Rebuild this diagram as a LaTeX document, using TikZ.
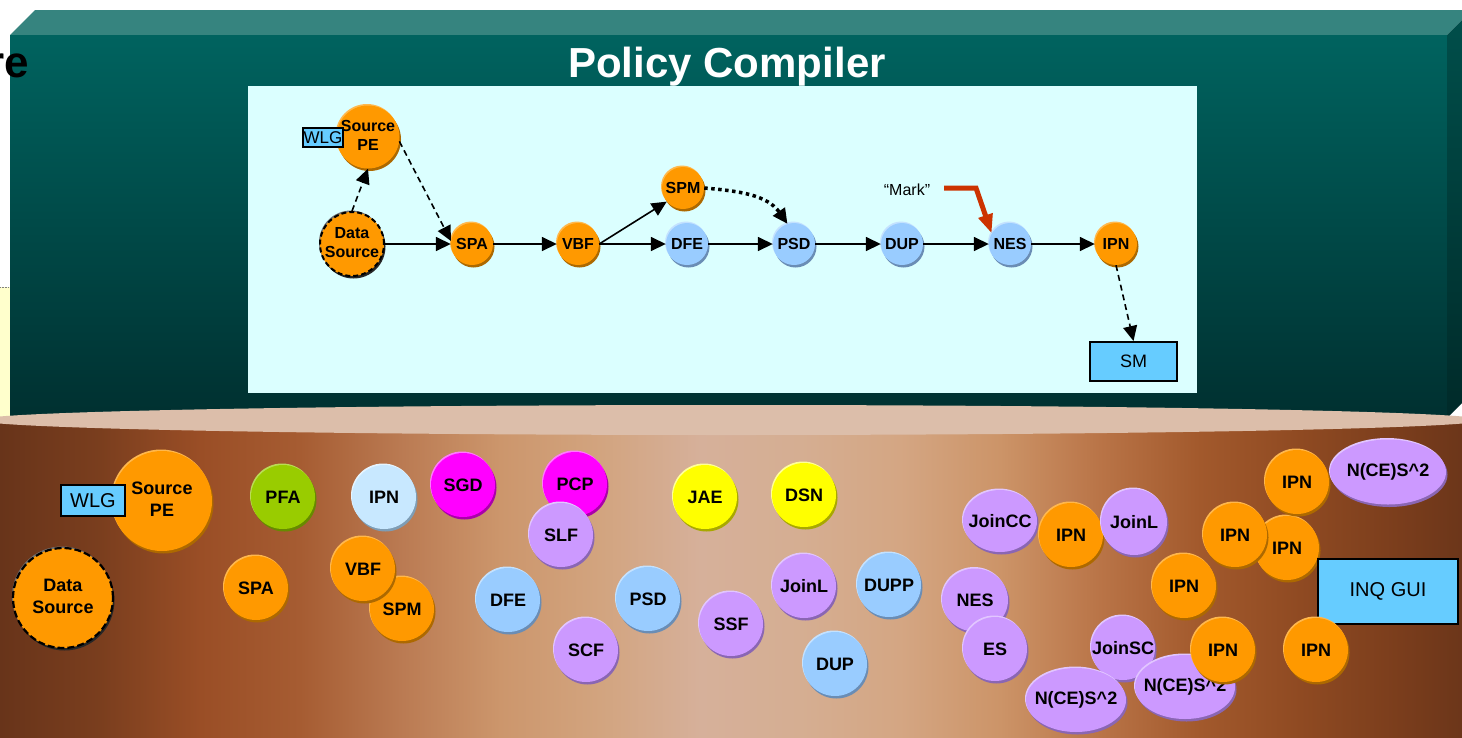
\documentclass[tikz,border=0pt]{standalone}
\usepackage{fontspec}
\setmainfont{Liberation Sans}
\usetikzlibrary{arrows.meta,shapes.geometric,shadows}

% palette
\definecolor{cOr}{HTML}{FF9900}\definecolor{cOrL}{HTML}{FFB84D}\definecolor{cOrD}{HTML}{AD6900}
\definecolor{cBl}{HTML}{99CCFF}\definecolor{cBlL}{HTML}{C4E2FF}\definecolor{cBlD}{HTML}{6A8DB5}
\definecolor{cPb}{HTML}{C8E8FF}\definecolor{cPbL}{HTML}{E6F5FF}\definecolor{cPbD}{HTML}{7E9DB5}
\definecolor{cLv}{HTML}{CC99FF}\definecolor{cLvL}{HTML}{E2C6FF}\definecolor{cLvD}{HTML}{8A66B3}
\definecolor{cMg}{HTML}{FF00FF}\definecolor{cMgL}{HTML}{FF7AFF}\definecolor{cMgD}{HTML}{AA00AA}
\definecolor{cYe}{HTML}{FFFF00}\definecolor{cYeL}{HTML}{FFFF99}\definecolor{cYeD}{HTML}{A8A800}
\definecolor{cGr}{HTML}{99CC00}\definecolor{cGrL}{HTML}{BADD55}\definecolor{cGrD}{HTML}{678A00}
\definecolor{cBox}{HTML}{66CCFF}
\definecolor{cPanel}{HTML}{DBFFFF}
\definecolor{cCap}{HTML}{DCBEAA}
\definecolor{cTop}{HTML}{36847F}
\definecolor{cFrT}{HTML}{00635F}\definecolor{cFrB}{HTML}{003030}
\definecolor{cSdT}{HTML}{004F4B}\definecolor{cSdB}{HTML}{002A29}
\definecolor{cStrip}{HTML}{FFFFCC}
\definecolor{cMark}{HTML}{CC3300}
% cylinder body tones, left to right
\definecolor{bd0}{HTML}{68341A}\definecolor{bd1}{HTML}{7A3E1E}\definecolor{bd2}{HTML}{9A4E26}
\definecolor{bd3}{HTML}{A65C32}\definecolor{bd4}{HTML}{BA7A52}\definecolor{bd5}{HTML}{CC966C}
\definecolor{bd6}{HTML}{D2A47F}\definecolor{bd7}{HTML}{D6B09A}\definecolor{bd8}{HTML}{D5AE92}
\definecolor{bd9}{HTML}{D4A683}\definecolor{bd10}{HTML}{CC9468}\definecolor{bd11}{HTML}{B97447}
\definecolor{bd12}{HTML}{A2592C}\definecolor{bd13}{HTML}{8F4A22}\definecolor{bd14}{HTML}{7A3D1C}
\definecolor{bd15}{HTML}{6C361A}

\pgfdeclarehorizontalshading{cylbody}{100bp}{%
  color(0bp)=(bd0); color(25bp)=(bd0); color(28.42bp)=(bd1); color(31.84bp)=(bd2);
  color(35.26bp)=(bd3); color(38.68bp)=(bd4); color(42.10bp)=(bd5); color(45.52bp)=(bd6);
  color(48.94bp)=(bd7); color(52.36bp)=(bd8); color(55.78bp)=(bd9); color(59.20bp)=(bd10);
  color(62.62bp)=(bd11); color(66.04bp)=(bd12); color(69.46bp)=(bd13); color(72.88bp)=(bd14);
  color(75bp)=(bd15); color(100bp)=(bd15)}

\newcommand{\lblbox}[1]{\makebox[0pt]{#1}}
\newcommand{\twoline}[2]{\makebox[0pt]{\begin{tabular}{@{}c@{}}#1\\#2\end{tabular}}}

\tikzset{
  orb/.style={ellipse, inner sep=0pt, minimum width=64pt, minimum height=64pt,
    font=\bfseries\fontsize{18}{22}\selectfont},
  smallorb/.style={orb, minimum width=42pt, minimum height=42pt,
    font=\bfseries\fontsize{16}{19}\selectfont},
  orbfill/.style n args={3}{fill=#1,
    drop shadow={shadow xshift=1.5pt, shadow yshift=-2.5pt, fill=#3, opacity=1},
    general shadow={shadow xshift=-1pt, shadow yshift=1.5pt, fill=#2}},
  tOr/.style={orbfill={cOr}{cOrL}{cOrD}},
  tBl/.style={orbfill={cBl}{cBlL}{cBlD}},
  tPb/.style={orbfill={cPb}{cPbL}{cPbD}},
  tLv/.style={orbfill={cLv}{cLvL}{cLvD}},
  tMg/.style={orbfill={cMg}{cMgL}{cMgD}},
  tYe/.style={orbfill={cYe}{cYeL}{cYeD}},
  tGr/.style={orbfill={cGr}{cGrL}{cGrD}},
  srcorb/.style={orbfill={cOr}{black!55}{black!85}, draw=black},
  wbox/.style={rectangle, draw=black, fill=cBox, inner sep=0pt},
  arr/.style={line width=1.6pt, -{Triangle[length=15pt,width=14pt]}},
  dsh/.style={arr, dash pattern=on 6pt off 4pt},
  dtt/.style={line width=3.5pt, dash pattern=on 3.5pt off 3.5pt,
    -{Triangle[length=15pt,width=14pt]}},
  markarrow/.style={draw=cMark, line width=5pt, line join=miter,
    -{Triangle[length=19pt,width=14pt]}}
}

\begin{document}
\begin{tikzpicture}[x=1pt,y=-1pt]
\useasboundingbox (0,0) rectangle (1462,737);
\fill[white] (0,0) rectangle (1462,737);

% pale strip at the left edge
\fill[cStrip] (0,287) rectangle (10,418);
\draw[gray, densely dotted, line width=0.6pt] (0,287) -- (10,287);

% compiler block: top face, front face, side face
\fill[cTop] (10,35) -- (35,10) -- (1472,10) -- (1447,35) -- cycle;
\shade[top color=cFrT, bottom color=cFrB] (10,35) rectangle (1447,418);
\shade[top color=cSdT, bottom color=cSdB] (1447,35) -- (1472,10) -- (1472,393) -- (1447,418) -- cycle;

\node[anchor=base east, inner sep=0pt, font=\bfseries\fontsize{44}{50}\selectfont] (cuttitle) at (29,77) {re};
\node[anchor=base, inner sep=0pt, text=white, font=\bfseries\fontsize{42}{48}\selectfont] (title) at (727,77) {Policy Compiler};

% flow panel
\fill[cPanel] (248,86) rectangle (1197,393);

% cylinder of elements
\shade[shading=cylbody] (0,420) rectangle (1462,740);
\fill[cCap] (731,420) ellipse [x radius=752, y radius=15];

% ---- flow inside the panel ----
\node[smallorb, tOr, minimum width=63pt, minimum height=63pt] (psrc) at (368,137) {\twoline{Source}{PE}};
\node[wbox, minimum width=40pt, minimum height=19pt, line width=1.4pt, font=\fontsize{17}{19}\selectfont] (pwlg) at (323,137.5) {\lblbox{WLG}};
\node[smallorb, srcorb, minimum width=64pt, minimum height=64pt, line width=2pt, dash pattern=on 5pt off 3pt] (pds) at (352,244) {\twoline{Data}{Source}};
\node[smallorb, tOr] (pspa) at (472,244) {\lblbox{SPA}};
\node[smallorb, tOr] (pvbf) at (578,244) {\lblbox{VBF}};
\node[smallorb, tOr] (pspm) at (683,188) {\lblbox{SPM}};
\node[smallorb, tBl] (pdfe) at (687,244) {\lblbox{DFE}};
\node[smallorb, tBl] (ppsd) at (794,244) {\lblbox{PSD}};
\node[smallorb, tBl] (pdup) at (902,244) {\lblbox{DUP}};
\node[smallorb, tBl] (pnes) at (1010,244) {\lblbox{NES}};
\node[smallorb, tOr] (pipn) at (1116,244) {\lblbox{IPN}};
\node[wbox, minimum width=87pt, minimum height=39pt, line width=2pt, font=\fontsize{18}{20}\selectfont] (psm) at (1133.5,361.5) {\lblbox{SM}};
\node[font=\fontsize{16}{18}\selectfont, inner sep=0pt] (mark) at (907,190) {“Mark”};

\draw[dsh] (pds.north) -- (psrc.south);
\draw[dsh] (psrc.-8) -- (pspa.172);
\draw[arr] (pds) -- (pspa);
\draw[arr] (pspa) -- (pvbf);
\draw[arr] (pvbf.east) -- (pspm.220);
\draw[arr] (pvbf) -- (pdfe);
\draw[arr] (pdfe) -- (ppsd);
\draw[dtt] (pspm.east) to[out=-5, in=125] (ppsd.108);
\draw[arr] (ppsd) -- (pdup);
\draw[arr] (pdup) -- (pnes);
\draw[arr] (pnes) -- (pipn);
\draw[dsh] (pipn.south) -- (psm.north);

\coordinate (mk1) at (944,188);
\coordinate (mk2) at (976,188);
\draw[markarrow] (mk1) -- (mk2) -- (pnes.150);

% ---- loose elements on the cylinder ----
\node[orb, tOr, minimum width=100pt, minimum height=100pt] (bsrc) at (162,501) {\twoline{Source}{PE}};
\node[wbox, minimum width=64pt, minimum height=31pt, line width=2pt, font=\fontsize{20}{22}\selectfont] (bwlg) at (93,500.5) {\lblbox{WLG}};
\node[orb, srcorb, minimum width=100pt, minimum height=100pt, line width=2.2pt, dash pattern=on 7pt off 3pt] (bds) at (63,598) {\twoline{Data}{Source}};
\node[orb, tGr] (bpfa) at (283,497) {\lblbox{PFA}};
\node[orb, tPb] (bipna) at (384,497) {\lblbox{IPN}};
\node[orb, tMg] (bsgd) at (463,485) {\lblbox{SGD}};
\node[orb, tMg] (bpcp) at (575,484) {\lblbox{PCP}};
\node[orb, tLv] (bslf) at (561,535) {\lblbox{SLF}};
\node[orb, tYe] (bjae) at (705,497) {\lblbox{JAE}};
\node[orb, tYe] (bdsn) at (804,495) {\lblbox{DSN}};
\node[orb, tOr] (bspa) at (256,588) {\lblbox{SPA}};
\node[orb, tOr] (bspm) at (402,609) {\lblbox{SPM}};
\node[orb, tOr] (bvbf) at (363,569) {\lblbox{VBF}};
\node[orb, tBl] (bdfe) at (508,600) {\lblbox{DFE}};
\node[orb, tBl] (bpsd) at (648,599) {\lblbox{PSD}};
\node[orb, tLv] (bscf) at (586,650) {\lblbox{SCF}};
\node[orb, tLv] (bssf) at (731,624) {\lblbox{SSF}};
\node[orb, tLv] (bjoinla) at (804,586) {\lblbox{JoinL}};
\node[orb, tBl] (bdupp) at (889,585) {\lblbox{DUPP}};
\node[orb, tBl] (bdup) at (835,664) {\lblbox{DUP}};

\node[orb, tLv, minimum width=74pt, minimum height=62pt] (bjcc) at (1000,521) {\lblbox{JoinCC}};
\node[orb, tOr] (bipnb) at (1071,535) {\lblbox{IPN}};
\node[orb, tLv, minimum width=66pt, minimum height=66pt] (bjoinlb) at (1134,522) {\lblbox{JoinL}};
\node[orb, tLv, minimum width=66pt, minimum height=63pt] (bnes) at (975,600) {\lblbox{NES}};
\node[orb, tLv] (bes) at (995,649) {\lblbox{ES}};
\node[orb, tLv] (bjsc) at (1123,648) {\lblbox{JoinSC}};
\node[orb, tLv, minimum width=100pt, minimum height=64pt] (bnxa) at (1076,700) {\lblbox{N(CE)S\^{}2}};
\node[orb, tLv, minimum width=100pt, minimum height=64pt] (bnxb) at (1185,687) {\lblbox{N(CE)S\^{}2}};
\node[orb, tOr] (bipnc) at (1223,650) {\lblbox{IPN}};
\node[orb, tOr] (bipnd) at (1184,586) {\lblbox{IPN}};
\node[orb, tOr] (bipne) at (1287,548) {\lblbox{IPN}};
\node[orb, tOr] (bipnf) at (1235,535) {\lblbox{IPN}};
\node[orb, tOr] (bipng) at (1297,482) {\lblbox{IPN}};
\node[orb, tLv, minimum width=116pt, minimum height=65pt] (bnxc) at (1388,472) {\lblbox{N(CE)S\^{}2}};
\node[wbox, minimum width=140pt, minimum height=65pt, line width=2.5pt, font=\fontsize{20}{22}\selectfont] (binq) at (1388,591.5) {\lblbox{INQ GUI}};
\node[orb, tOr] (bipnh) at (1316,650) {\lblbox{IPN}};
\end{tikzpicture}
\end{document}
